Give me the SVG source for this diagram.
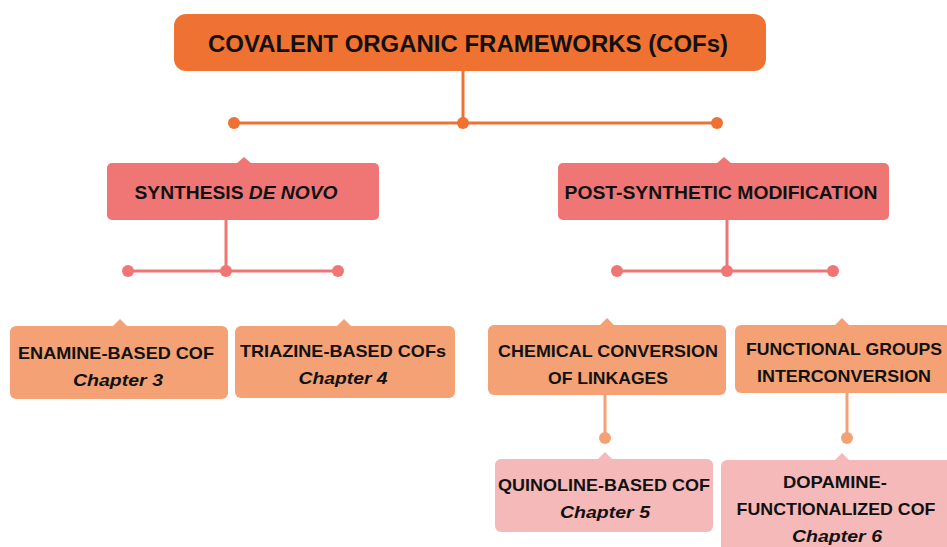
<svg xmlns="http://www.w3.org/2000/svg" width="947" height="547" viewBox="0 0 947 547">
<style>
text{font-family:"Liberation Sans",Arial,sans-serif;font-weight:bold;fill:#111;text-anchor:middle}
.t1{font-size:23px}
.t2{font-size:18px}
.t3{font-size:17px}
.it{font-style:italic}
.c1{fill:#F07232}
.c2{fill:#F07676}
.c3{fill:#F4A275}
.c4{fill:#F6B9B9}
.l1{stroke:#F07232;stroke-width:3;fill:none}
.l2{stroke:#F07676;stroke-width:3;fill:none}
.l3{stroke:#F4A275;stroke-width:3;fill:none}
</style>
<rect width="947" height="547" fill="#fff"/>
<g id="connectors">
<path class="l1" d="M463 71V123M234 123H717"/>
<circle class="c1" cx="234" cy="123" r="6"/>
<circle class="c1" cx="463" cy="123" r="6"/>
<circle class="c1" cx="717" cy="123" r="6"/>
<path class="l2" d="M226 219V271M128 271H338"/>
<circle class="c2" cx="128" cy="271" r="6"/>
<circle class="c2" cx="226" cy="271" r="6"/>
<circle class="c2" cx="338" cy="271" r="6"/>
<path class="l2" d="M727 219V271M617 271H833"/>
<circle class="c2" cx="617" cy="271" r="6"/>
<circle class="c2" cx="727" cy="271" r="6"/>
<circle class="c2" cx="833" cy="271" r="6"/>
<path class="l3" d="M605 394V438M847 392V438"/>
<circle class="c3" cx="605" cy="438" r="6"/>
<circle class="c3" cx="847" cy="438" r="6"/>
</g>
<g id="n-cofs">
<rect class="c1" x="174" y="14" width="592" height="57" rx="12"/>
<text class="t1" x="468" y="52" textLength="520" lengthAdjust="spacingAndGlyphs">COVALENT ORGANIC FRAMEWORKS (COFs)</text>
</g>
<g id="n-denovo">
<rect class="c2" x="107" y="163" width="272" height="57" rx="5"/>
<polygon class="c2" points="236,164 244,157 252,164"/>
<text class="t2" x="236" y="199" textLength="203" lengthAdjust="spacingAndGlyphs">SYNTHESIS <tspan class="it">DE NOVO</tspan></text>
</g>
<g id="n-psm">
<rect class="c2" x="558" y="163" width="331" height="57" rx="5"/>
<polygon class="c2" points="716,164 724,157 732,164"/>
<text class="t2" x="721" y="199" textLength="313" lengthAdjust="spacingAndGlyphs">POST-SYNTHETIC MODIFICATION</text>
</g>
<g id="n-enamine">
<rect class="c3" x="10" y="326" width="218" height="73" rx="6"/>
<polygon class="c3" points="112,327 120,319 128,327"/>
<text class="t3" x="116" y="359" textLength="196" lengthAdjust="spacingAndGlyphs">ENAMINE-BASED COF</text>
<text class="t3 it" x="118" y="386" textLength="90" lengthAdjust="spacingAndGlyphs">Chapter 3</text>
</g>
<g id="n-triazine">
<rect class="c3" x="235" y="326" width="220" height="72" rx="6"/>
<polygon class="c3" points="336,327 344,319 352,327"/>
<text class="t3" x="343" y="357" textLength="206" lengthAdjust="spacingAndGlyphs">TRIAZINE-BASED COFs</text>
<text class="t3 it" x="343" y="384" textLength="89" lengthAdjust="spacingAndGlyphs">Chapter 4</text>
</g>
<g id="n-chemical">
<rect class="c3" x="488" y="325" width="238" height="70" rx="6"/>
<polygon class="c3" points="599,326 607,318 615,326"/>
<text class="t3" x="608" y="357" textLength="220" lengthAdjust="spacingAndGlyphs">CHEMICAL CONVERSION</text>
<text class="t3" x="608" y="384" textLength="120" lengthAdjust="spacingAndGlyphs">OF LINKAGES</text>
</g>
<g id="n-functional">
<rect class="c3" x="735" y="325" width="216" height="68" rx="6"/>
<polygon class="c3" points="834,326 842,318 850,326"/>
<text class="t3" x="844" y="355" textLength="196" lengthAdjust="spacingAndGlyphs">FUNCTIONAL GROUPS</text>
<text class="t3" x="844" y="382" textLength="174" lengthAdjust="spacingAndGlyphs">INTERCONVERSION</text>
</g>
<g id="n-quinoline">
<rect class="c4" x="495" y="459" width="218" height="73" rx="6"/>
<polygon class="c4" points="597,460 605,452 613,460"/>
<text class="t3" x="604" y="491" textLength="212" lengthAdjust="spacingAndGlyphs">QUINOLINE-BASED COF</text>
<text class="t3 it" x="605" y="518" textLength="90" lengthAdjust="spacingAndGlyphs">Chapter 5</text>
</g>
<g id="n-dopamine">
<rect class="c4" x="721" y="460" width="232" height="95" rx="6"/>
<polygon class="c4" points="834,461 842,453 850,461"/>
<text class="t3" x="835" y="488" textLength="104" lengthAdjust="spacingAndGlyphs">DOPAMINE-</text>
<text class="t3" x="836" y="515" textLength="199" lengthAdjust="spacingAndGlyphs">FUNCTIONALIZED COF</text>
<text class="t3 it" x="837" y="542" textLength="90" lengthAdjust="spacingAndGlyphs">Chapter 6</text>
</g>
</svg>
